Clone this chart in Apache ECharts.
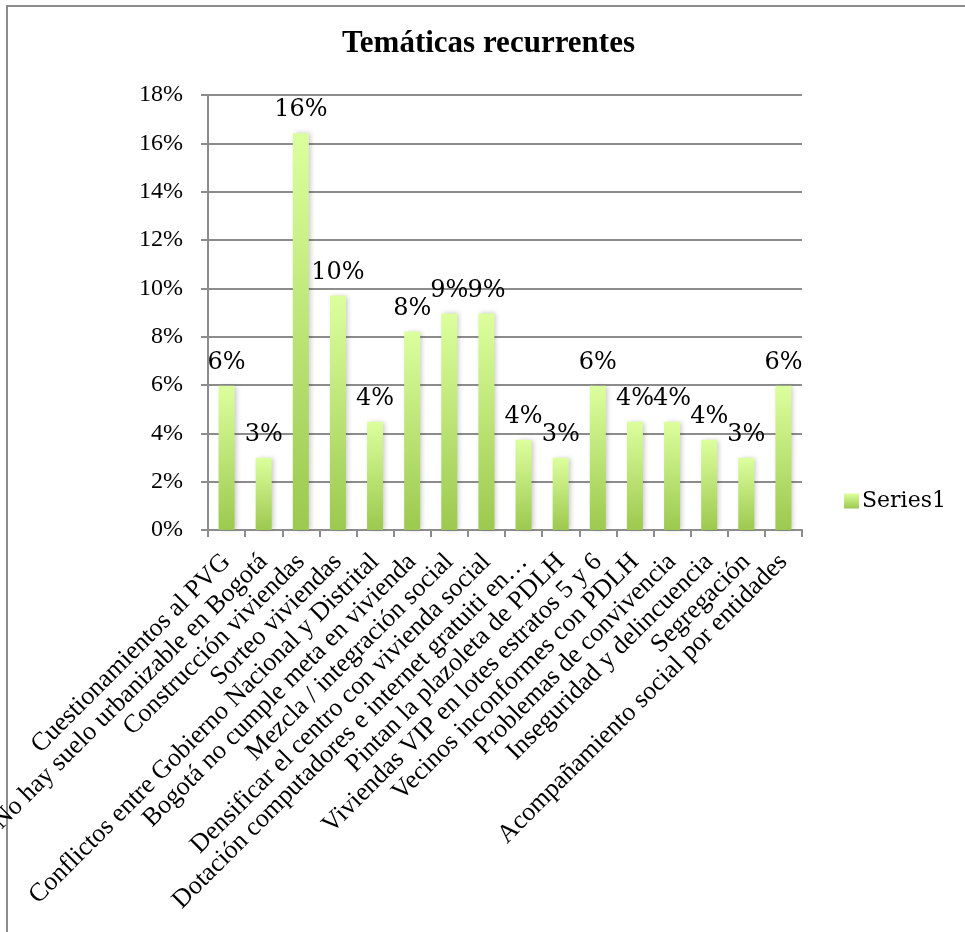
<!DOCTYPE html>
<html>
<head>
<meta charset="utf-8">
<script src="https://cdn.jsdelivr.net/npm/echarts@6/dist/echarts.min.js"></script>
<style>
html,body{margin:0;padding:0;background:#fff;}
#chart{width:965px;height:932px;}
</style>
</head>
<body>
<div id="chart"></div>
<script>
const titleText = 'Temáticas recurrentes';
const seriesName = 'Series1';
const categories = [
  'Cuestionamientos al PVG',
  'No hay suelo urbanizable en Bogotá',
  'Construcción viviendas',
  'Sorteo viviendas',
  'Conflictos entre Gobierno Nacional y Distrital',
  'Bogotá no cumple meta en vivienda',
  'Mezcla / integración social',
  'Densificar el centro con vivienda social',
  'Dotación computadores e internet gratuiti en…',
  'Pintan la plazoleta de PDLH',
  'Viviendas VIP en lotes estratos 5 y 6',
  'Vecinos inconformes con PDLH',
  'Problemas de convivencia',
  'Inseguridad y delincuencia',
  'Segregación',
  'Acompañamiento social por entidades'
];
const values = [0.0597, 0.0299, 0.1642, 0.0970, 0.0448, 0.0821, 0.0896, 0.0896,
                0.0373, 0.0299, 0.0597, 0.0448, 0.0448, 0.0373, 0.0299, 0.0597];
const yMin = 0, yMax = 0.18, yStep = 0.02;

const pct = v => Math.round(v * 100) + '%';
const barGradient = new echarts.graphic.LinearGradient(0, 0, 0, 1, [
  {offset: 0, color: '#dcff9d'},
  {offset: 1, color: '#9cc94f'}
]);

const chart = echarts.init(document.getElementById('chart'), null, {renderer: 'canvas'});
chart.setOption({
  animation: false,
  backgroundColor: '#ffffff',
  graphic: [{
    type: 'rect',
    shape: {x: 7, y: 6, width: 1200, height: 1200},
    style: {fill: 'none', stroke: '#8c8c8c', lineWidth: 2},
    silent: true
  }],
  title: {
    text: titleText,
    left: 342,
    top: 28,
    padding: 0,
    textStyle: {fontFamily: 'Liberation Serif', fontWeight: 'bold', fontSize: 31, color: '#000'}
  },
  legend: {
    orient: 'vertical',
    left: 844,
    top: 490,
    padding: 0,
    itemWidth: 15,
    itemHeight: 15,
    itemGap: 6,
    icon: 'rect',
    data: [seriesName],
    textStyle: {fontFamily: 'DejaVu Serif', fontSize: 22, color: '#000', padding: [0,0,0,-2]}
  },
  grid: {left: 208, right: 163, top: 95, bottom: 402, containLabel: false, outerBoundsMode: 'none'},
  xAxis: {
    type: 'category',
    data: categories,
    axisLine: {show: true, lineStyle: {color: '#8c8c8c', width: 2}},
    axisTick: {show: true, alignWithLabel: false, length: 7, lineStyle: {color: '#8c8c8c', width: 2}},
    axisLabel: {
      interval: 0, rotate: 45, margin: 28,
      fontFamily: 'Liberation Serif', fontSize: 26, color: '#000'
    },
    splitLine: {show: false}
  },
  yAxis: {
    type: 'value',
    min: yMin, max: yMax, interval: yStep,
    axisLine: {show: true, lineStyle: {color: '#8c8c8c', width: 2}},
    axisTick: {show: true, length: 7, lineStyle: {color: '#8c8c8c', width: 2}},
    axisLabel: {
      margin: 25, formatter: v => pct(v),
      fontFamily: 'Liberation Serif', fontSize: 24, color: '#000'
    },
    splitLine: {show: true, lineStyle: {color: '#8c8c8c', width: 2}}
  },
  series: [{
    name: seriesName,
    type: 'bar',
    data: values,
    barWidth: 16,
    itemStyle: {
      color: barGradient,
      shadowColor: 'rgba(0,0,0,0.22)',
      shadowBlur: 5,
      shadowOffsetX: 2
    },
    label: {
      show: true,
      position: 'top',
      distance: 11,
      formatter: p => pct(p.value),
      fontFamily: 'DejaVu Serif', fontSize: 24, color: '#000'
    }
  }]
});
</script>
</body>
</html>
